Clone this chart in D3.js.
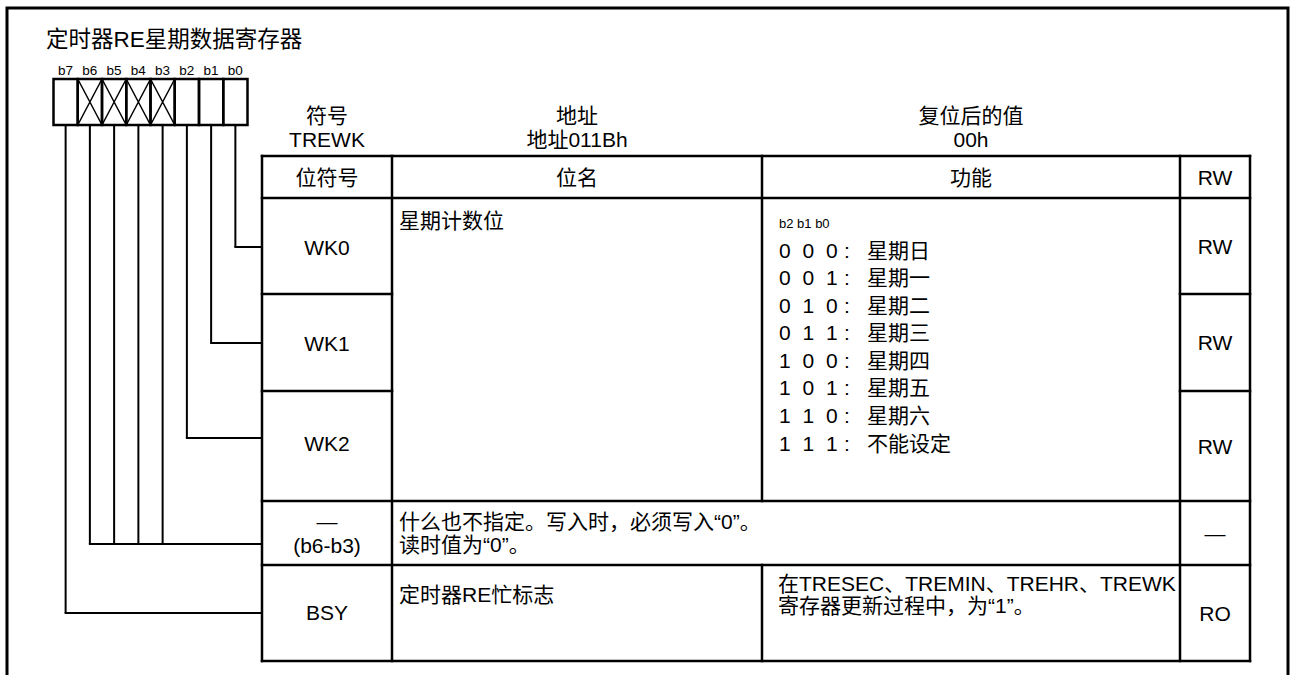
<!DOCTYPE html>
<html><head><meta charset="utf-8">
<script src="https://cdn.jsdelivr.net/npm/d3@7"></script>
<style>
html,body{margin:0;padding:0;background:#fff;}
text{font-family:"Liberation Sans",Arial,"Noto Sans CJK SC",sans-serif;fill:#000;}
</style></head>
<body>
<svg id="c" width="1291" height="675"></svg>
<script>
// ---- data ----
const title = "定时器RE星期数据寄存器";
const bitLabels = ["b7","b6","b5","b4","b3","b2","b1","b0"];
const reservedBits = ["b6","b5","b4","b3"];
const headerLabels = ["符号","地址","复位后的值"];
const headerValues = ["TREWK","地址011Bh","00h"];
const columnTitles = ["位符号","位名","功能","RW"];
const rowSymbols = [["WK0"],["WK1"],["WK2"],["—","(b6-b3)"],["BSY"]];
const rowBits = [["b0"],["b1"],["b2"],["b6","b5","b4","b3"],["b7"]];
const rowAccess = ["RW","RW","RW","—","RO"];
const weekBitName = "星期计数位";
const weekCodeHeader = "b2 b1 b0";
const weekCodes = [["0","0","0"],["0","0","1"],["0","1","0"],["0","1","1"],["1","0","0"],["1","0","1"],["1","1","0"],["1","1","1"]];
const weekNames = ["星期日","星期一","星期二","星期三","星期四","星期五","星期六","不能设定"];
const reservedText = ["什么也不指定。写入时，必须写入“0”。","读时值为“0”。"];
const bsyName = "定时器RE忙标志";
const bsyFunction = ["在TRESEC、TREMIN、TREHR、TREWK","寄存器更新过程中，为“1”。"];

// ---- layout ----
const svg = d3.select("#c");
const body = 21;
const stroke = "#000";

// outer frame
svg.append("path").attr("d","M7,675 L7,8 L1288,8 L1288,675")
  .attr("fill","none").attr("stroke",stroke).attr("stroke-width",3);

svg.append("text").attr("x",46).attr("y",47).attr("font-size",22.5).text(title);

// register box
const bx = d3.scaleBand().domain(bitLabels).range([53.5,247.5]);
const boxTop = 79, boxBot = 125;
svg.selectAll(".bl").data(bitLabels).join("text")
  .attr("x",d=>bx(d)+bx.bandwidth()/2).attr("y",74.5)
  .attr("text-anchor","middle").attr("font-size",13.5).text(d=>d);
svg.selectAll(".cell").data(bitLabels).join("rect")
  .attr("x",d=>bx(d)).attr("y",boxTop).attr("width",bx.bandwidth()).attr("height",boxBot-boxTop)
  .attr("fill","none").attr("stroke",stroke).attr("stroke-width",2.5);
svg.selectAll(".x").data(reservedBits).join("path")
  .attr("d",d=>{const x0=bx(d),x1=x0+bx.bandwidth();return `M${x0},${boxTop}L${x1},${boxBot}M${x1},${boxTop}L${x0},${boxBot}`;})
  .attr("stroke",stroke).attr("stroke-width",1.5).attr("fill","none");

// table geometry
const colEdges = [262,392,762,1180,1250];
const rowEdges = [156,198,294,391,501,565,661];
const connectorY = [247,343,438,544,613];
const symX = (colEdges[0]+colEdges[1])/2;

// header labels above table
const headCenters = [symX,(colEdges[1]+colEdges[2])/2,(colEdges[2]+colEdges[3])/2];
headerLabels.forEach((t,i)=>{
  svg.append("text").attr("x",headCenters[i]).attr("y",115).attr("text-anchor","middle")
    .attr("dominant-baseline","central").attr("font-size",body).text(t);
  svg.append("text").attr("x",headCenters[i]).attr("y",139).attr("text-anchor","middle")
    .attr("dominant-baseline","central").attr("font-size",body).text(headerValues[i]);
});

// connectors from bits
rowBits.forEach((bits,i)=>{
  const y = connectorY[i];
  bits.forEach(b=>{
    const x = bx(b)+bx.bandwidth()/2;
    svg.append("line").attr("x1",x).attr("x2",x).attr("y1",boxBot).attr("y2",y)
      .attr("stroke",stroke).attr("stroke-width",2);
  });
  const xs = bits.map(b=>bx(b)+bx.bandwidth()/2);
  svg.append("line").attr("x1",d3.min(xs)-1).attr("x2",colEdges[0]).attr("y1",y).attr("y2",y)
    .attr("stroke",stroke).attr("stroke-width",2);
});

// table lines
const L = (x1,y1,x2,y2)=>svg.append("line").attr("x1",x1).attr("y1",y1).attr("x2",x2).attr("y2",y2)
  .attr("stroke",stroke).attr("stroke-width",2.5).attr("stroke-linecap","square");
L(colEdges[0],rowEdges[0],colEdges[4],rowEdges[0]);
L(colEdges[0],rowEdges[1],colEdges[4],rowEdges[1]);
L(colEdges[0],rowEdges[2],colEdges[1],rowEdges[2]); L(colEdges[3],rowEdges[2],colEdges[4],rowEdges[2]);
L(colEdges[0],rowEdges[3],colEdges[1],rowEdges[3]); L(colEdges[3],rowEdges[3],colEdges[4],rowEdges[3]);
L(colEdges[0],rowEdges[4],colEdges[4],rowEdges[4]);
L(colEdges[0],rowEdges[5],colEdges[4],rowEdges[5]);
L(colEdges[0],rowEdges[6],colEdges[4],rowEdges[6]);
L(colEdges[0],rowEdges[0],colEdges[0],rowEdges[6]);
L(colEdges[1],rowEdges[0],colEdges[1],rowEdges[6]);
L(colEdges[2],rowEdges[0],colEdges[2],rowEdges[4]);
L(colEdges[2],rowEdges[5],colEdges[2],rowEdges[6]);
L(colEdges[3],rowEdges[0],colEdges[3],rowEdges[6]);
L(colEdges[4],rowEdges[0],colEdges[4],rowEdges[6]);

const T = (x,y,t,anchor,size)=>svg.append("text").attr("x",x).attr("y",y)
  .attr("text-anchor",anchor||"start").attr("dominant-baseline","central")
  .attr("font-size",size||body).text(t);

// column titles
const hy = (rowEdges[0]+rowEdges[1])/2;
columnTitles.forEach((t,i)=>T((colEdges[i]+colEdges[i+1])/2,hy,t,"middle"));

// symbols and access
const symY = [[247],[343],[443],[521],[612]];
rowSymbols.forEach((lines,i)=>lines.forEach((t,j)=>T(symX,symY[i][0]+j*24,t,"middle")));
const rwX = (colEdges[3]+colEdges[4])/2;
rowAccess.forEach((t,i)=>T(rwX,(rowEdges[i+1]+rowEdges[i+2])/2,t,"middle"));

// bit names
const nx = 399;
T(nx,220,weekBitName);
reservedText.forEach((t,j)=>T(nx,521+j*23,t));
T(nx,594,bsyName);

// function listing
const fx = 779;
T(fx,223,weekCodeHeader,"start",13);
const lineY = d3.scaleLinear().domain([0,7]).range([250,443]);
weekCodes.forEach((code,i)=>{
  code.forEach((c,k)=>T(fx+k*23.5,lineY(i),c));
  T(fx+65,lineY(i),":");
  T(fx+88,lineY(i),weekNames[i]);
});
bsyFunction.forEach((t,j)=>T(fx-1,583+j*22,t));
</script>
</body></html>
